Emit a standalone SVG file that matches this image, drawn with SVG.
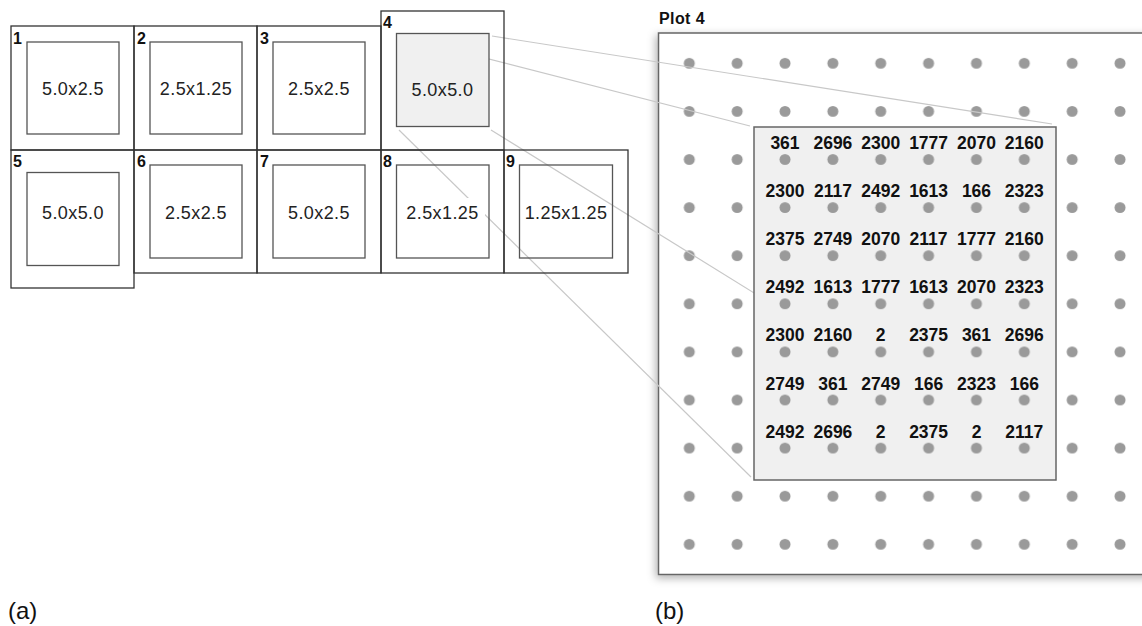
<svg xmlns="http://www.w3.org/2000/svg" xmlns:xlink="http://www.w3.org/1999/xlink" width="1142" height="626" viewBox="0 0 1142 626">
<style>
.cell{fill:none;stroke:#333;stroke-width:1.3}
.inner{fill:none;stroke:#555;stroke-width:1.3}
.hl{fill:#f0f0f0;stroke:#555;stroke-width:1.3}
.num{font-family:"Liberation Sans",Arial,sans-serif;font-weight:bold;font-size:16px;fill:#111}
.dim{font-family:"Liberation Sans",Arial,sans-serif;font-size:18px;letter-spacing:0.4px;fill:#222;text-anchor:middle}
.val{font-family:"Liberation Sans",Arial,sans-serif;font-weight:bold;font-size:17.5px;fill:#111;text-anchor:middle}
.cap{font-family:"Liberation Sans",Arial,sans-serif;font-size:24px;fill:#111}
.conn{stroke:#c8c8c8;stroke-width:1.2;fill:none}
.box{fill:#fff;stroke:#666;stroke-width:1.5}
.ibox{fill:#f0f0f0;stroke:#666;stroke-width:1.5}
</style>
<defs>
<pattern id="dots" patternUnits="userSpaceOnUse" x="665.37" y="39.25" width="47.86" height="48.1">
<circle cx="23.93" cy="24.05" r="5.5" fill="#9a9a9a"/>
</pattern>
<filter id="sh" x="-10%" y="-10%" width="120%" height="120%">
<feDropShadow dx="-2" dy="3" stdDeviation="4" flood-color="#000" flood-opacity="0.3"/>
</filter>
</defs>
<rect width="1142" height="626" fill="#fff"/>

<g id="panel-b-outer">
<text class="num" x="659" y="24" style="letter-spacing:0.4px">Plot 4</text>
<rect class="box" x="658.5" y="33" width="500" height="541.5" filter="url(#sh)"/>
<rect x="665.37" y="39.25" width="478.6" height="529.1" fill="url(#dots)"/>
</g>

<g id="connectors">
<line class="conn" x1="492" y1="36" x2="1052" y2="124"/>
<line class="conn" x1="399" y1="36" x2="750" y2="126"/>
<line class="conn" x1="399" y1="130" x2="751" y2="477"/>
<line class="conn" x1="491" y1="130" x2="1056" y2="480"/>
</g>

<g id="plot1">
<rect class="cell" x="11" y="26" width="123" height="124"/>
<rect class="inner" x="27" y="42" width="92" height="92"/>
<text class="num" x="13" y="44">1</text>
<text class="dim" x="73" y="95">5.0x2.5</text>
</g>
<g id="plot2">
<rect class="cell" x="134" y="26" width="123" height="124"/>
<rect class="inner" x="150" y="42" width="92" height="92"/>
<text class="num" x="137" y="44">2</text>
<text class="dim" x="196" y="95">2.5x1.25</text>
</g>
<g id="plot3">
<rect class="cell" x="257" y="26" width="124" height="124"/>
<rect class="inner" x="273" y="42" width="92" height="92"/>
<text class="num" x="260" y="44">3</text>
<text class="dim" x="319" y="95">2.5x2.5</text>
</g>
<g id="plot4">
<rect class="cell" x="381" y="11" width="123" height="139"/>
<rect class="hl" x="396.5" y="33.5" width="92.5" height="93"/>
<text class="num" x="383" y="28">4</text>
<text class="dim" x="442.5" y="96">5.0x5.0</text>
</g>
<g id="plot5">
<rect class="cell" x="11" y="150" width="123" height="138"/>
<rect class="inner" x="27" y="172.5" width="92" height="93"/>
<text class="num" x="13" y="167">5</text>
<text class="dim" x="73" y="219">5.0x5.0</text>
</g>
<g id="plot6">
<rect class="cell" x="134" y="150" width="123" height="123"/>
<rect class="inner" x="150" y="165" width="92" height="93"/>
<text class="num" x="137" y="167">6</text>
<text class="dim" x="196" y="219">2.5x2.5</text>
</g>
<g id="plot7">
<rect class="cell" x="257" y="150" width="124" height="123"/>
<rect class="inner" x="273" y="165" width="92" height="93"/>
<text class="num" x="260" y="167">7</text>
<text class="dim" x="319" y="219">5.0x2.5</text>
</g>
<g id="plot8">
<rect class="cell" x="381" y="150" width="123" height="123"/>
<rect class="inner" x="396.5" y="165" width="92.5" height="93"/>
<text class="num" x="383" y="167">8</text>
<rect x="401" y="198" width="84" height="26" fill="#fff"/>
<text class="dim" x="442.5" y="219">2.5x1.25</text>
</g>
<g id="plot9">
<rect class="cell" x="504" y="150" width="124" height="123"/>
<rect class="inner" x="519.5" y="165" width="93" height="93"/>
<text class="num" x="506" y="167">9</text>
<text class="dim" x="566" y="219">1.25x1.25</text>
</g>

<g id="panel-b-inner">
<rect class="ibox" x="754" y="127" width="302" height="353"/>
<rect x="761.09" y="135.45" width="287.16" height="336.7" fill="url(#dots)"/>
<text class="val" x="785" y="149">361</text><text class="val" x="832.9" y="149">2696</text><text class="val" x="880.7" y="149">2300</text><text class="val" x="928.6" y="149">1777</text><text class="val" x="976.5" y="149">2070</text><text class="val" x="1024.3" y="149">2160</text>
<text class="val" x="785" y="197.1">2300</text><text class="val" x="832.9" y="197.1">2117</text><text class="val" x="880.7" y="197.1">2492</text><text class="val" x="928.6" y="197.1">1613</text><text class="val" x="976.5" y="197.1">166</text><text class="val" x="1024.3" y="197.1">2323</text>
<text class="val" x="785" y="245.2">2375</text><text class="val" x="832.9" y="245.2">2749</text><text class="val" x="880.7" y="245.2">2070</text><text class="val" x="928.6" y="245.2">2117</text><text class="val" x="976.5" y="245.2">1777</text><text class="val" x="1024.3" y="245.2">2160</text>
<text class="val" x="785" y="293.3">2492</text><text class="val" x="832.9" y="293.3">1613</text><text class="val" x="880.7" y="293.3">1777</text><text class="val" x="928.6" y="293.3">1613</text><text class="val" x="976.5" y="293.3">2070</text><text class="val" x="1024.3" y="293.3">2323</text>
<text class="val" x="785" y="341.4">2300</text><text class="val" x="832.9" y="341.4">2160</text><text class="val" x="880.7" y="341.4">2</text><text class="val" x="928.6" y="341.4">2375</text><text class="val" x="976.5" y="341.4">361</text><text class="val" x="1024.3" y="341.4">2696</text>
<text class="val" x="785" y="389.5">2749</text><text class="val" x="832.9" y="389.5">361</text><text class="val" x="880.7" y="389.5">2749</text><text class="val" x="928.6" y="389.5">166</text><text class="val" x="976.5" y="389.5">2323</text><text class="val" x="1024.3" y="389.5">166</text>
<text class="val" x="785" y="437.6">2492</text><text class="val" x="832.9" y="437.6">2696</text><text class="val" x="880.7" y="437.6">2</text><text class="val" x="928.6" y="437.6">2375</text><text class="val" x="976.5" y="437.6">2</text><text class="val" x="1024.3" y="437.6">2117</text>
</g>

<g id="captions">
<text class="cap" x="8" y="619">(a)</text>
<text class="cap" x="655" y="619">(b)</text>
</g>
</svg>
